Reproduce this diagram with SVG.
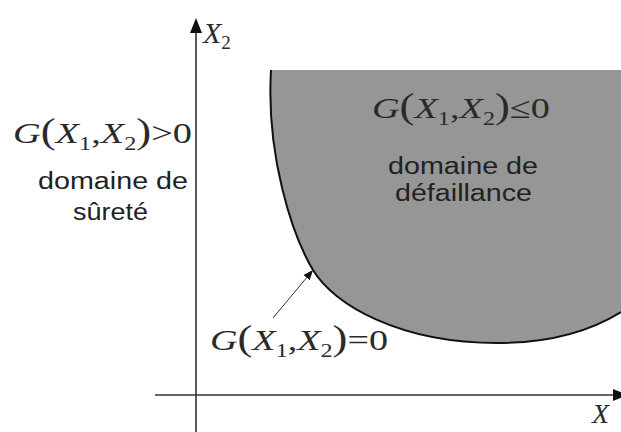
<svg xmlns="http://www.w3.org/2000/svg" width="621" height="432" viewBox="0 0 621 432">
<style>
.m{font-family:"Liberation Serif",serif;font-size:30px;fill:#2a2a2a}
.i{font-style:italic}
.s{font-size:19px}
.p{font-size:35px}
.t{font-family:"Liberation Sans",Arial,sans-serif;font-size:23px;fill:#222}
.ax{stroke:#333;stroke-width:1.6;fill:none}
</style>
<defs>
<marker id="ah" viewBox="0 0 10 10" refX="10" refY="5" markerWidth="10" markerHeight="10" markerUnits="userSpaceOnUse" orient="auto">
<path d="M0,1 L10,5 L0,9 Z" fill="#111"/>
</marker>
</defs>
<rect width="621" height="432" fill="#fff"/>
<g id="region">
<path d="M271,70 C266,155 292,235 313,270 C334,305 400,343 497,343 C560,343 600,325 621,312 L621,70 Z" fill="#969696"/>
<path d="M271,70 C266,155 292,235 313,270 C334,305 400,343 497,343 C560,343 600,325 621,312" fill="none" stroke="#111" stroke-width="2"/>
</g>
<g id="axes">
<line class="ax" x1="196" y1="30" x2="196" y2="432"/>
<path d="M196,18 L190,33 L202,33 Z" fill="#111"/>
<line class="ax" x1="155" y1="395" x2="615" y2="395"/>
<path d="M628,395 L613,389 L613,401 Z" fill="#111"/>
</g>
<g id="connectors">
<line x1="273" y1="318" x2="313" y2="270" stroke="#333" stroke-width="1" marker-end="url(#ah)"/>
</g>
<g id="label-x2">
<text class="m" x="203" y="43"><tspan class="i">X</tspan><tspan class="s" dy="6">2</tspan></text>
</g>
<g id="label-x1">
<text class="m i" x="592" y="423" style="font-size:28px">X</text>
</g>
<g id="safe">
<text class="m" x="13" y="143" textLength="179" lengthAdjust="spacingAndGlyphs"><tspan class="i">G</tspan><tspan class="p">(</tspan><tspan class="i">X</tspan><tspan class="s" dy="7">1</tspan><tspan dy="-7">,</tspan><tspan class="i">X</tspan><tspan class="s" dy="7">2</tspan><tspan class="p" dy="-7">)</tspan><tspan>&gt;0</tspan></text>
<text class="t" x="38" y="189" textLength="150" lengthAdjust="spacingAndGlyphs">domaine de</text>
<text class="t" x="73" y="220" textLength="75" lengthAdjust="spacingAndGlyphs">sûreté</text>
</g>
<g id="failure">
<text class="m" x="372" y="118" textLength="178" lengthAdjust="spacingAndGlyphs"><tspan class="i">G</tspan><tspan class="p">(</tspan><tspan class="i">X</tspan><tspan class="s" dy="7">1</tspan><tspan dy="-7">,</tspan><tspan class="i">X</tspan><tspan class="s" dy="7">2</tspan><tspan class="p" dy="-7">)</tspan><tspan>≤0</tspan></text>
<text class="t" x="388" y="174" textLength="150" lengthAdjust="spacingAndGlyphs">domaine de</text>
<text class="t" x="395" y="201" textLength="137" lengthAdjust="spacingAndGlyphs">défaillance</text>
</g>
<g id="limit">
<text class="m" x="210" y="350" textLength="178" lengthAdjust="spacingAndGlyphs"><tspan class="i">G</tspan><tspan class="p">(</tspan><tspan class="i">X</tspan><tspan class="s" dy="7">1</tspan><tspan dy="-7">,</tspan><tspan class="i">X</tspan><tspan class="s" dy="7">2</tspan><tspan class="p" dy="-7">)</tspan><tspan>=0</tspan></text>
</g>
</svg>
